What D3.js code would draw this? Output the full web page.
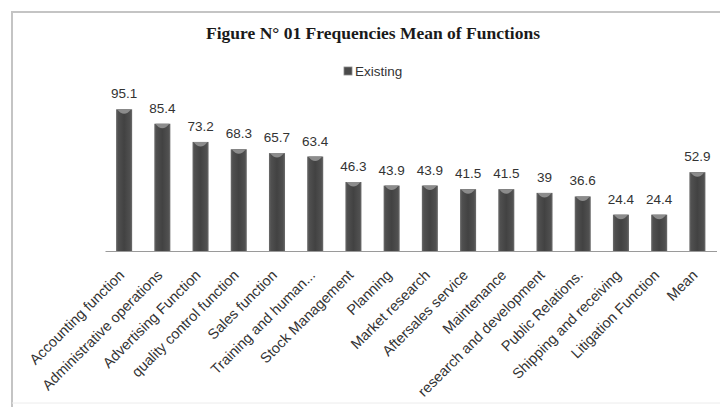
<!DOCTYPE html>
<html><head><meta charset="utf-8">
<script src="https://cdn.jsdelivr.net/npm/d3@7"></script>
<style>body{margin:0;background:#fff}svg{display:block}</style>
</head><body>
<script>
const categories = ["Accounting function","Administrative operations","Advertising Function","quality control function","Sales function","Training and human...","Stock Management","Planning","Market research","Aftersales service","Maintenance","research and development","Public Relations.","Shipping and receiving","Litigation Function","Mean"];
const values = [95.1,85.4,73.2,68.3,65.7,63.4,46.3,43.9,43.9,41.5,41.5,39,36.6,24.4,24.4,52.9];
const valueLabels = ["95.1","85.4","73.2","68.3","65.7","63.4","46.3","43.9","43.9","41.5","41.5","39","36.6","24.4","24.4","52.9"];
const seriesName = "Existing";
const titleText = "Figure N° 01 Frequencies Mean of Functions";

const W = 720, H = 407;
const svg = d3.select("body").append("svg").attr("width", W).attr("height", H);

// chart frame
svg.append("path").attr("d", `M12,${H+2} L12,12 L${W+2},12`).attr("fill","none").attr("stroke","#c4c4c4").attr("stroke-width",2);
svg.append("line").attr("x1",12).attr("x2",W).attr("y1",403).attr("y2",403).attr("stroke","#ececec").attr("stroke-width",1);

const defs = svg.append("defs");
const g = defs.append("linearGradient").attr("id","barGrad").attr("x1","0%").attr("x2","100%").attr("y1","0%").attr("y2","0%");
[["0%","#6e6e6e"],["12%","#505050"],["50%","#424242"],["88%","#505050"],["100%","#6e6e6e"]].forEach(([o,c])=>g.append("stop").attr("offset",o).attr("stop-color",c));

const x = d3.scaleBand().domain(categories).range([105, 716.5]).paddingInner(0.58).paddingOuter(0.29);
const y = d3.scaleLinear().domain([0,100]).range([251,102]);

// title
svg.append("text").attr("x",373).attr("y",39).attr("text-anchor","middle")
  .attr("font-family","'Liberation Serif','Times New Roman',serif").attr("font-weight","bold").attr("font-size",17.5)
  .attr("fill","#1a1a1a").text(titleText);

// legend
svg.append("rect").attr("x",344).attr("y",67).attr("width",8).attr("height",8).attr("fill","#4a4a4a").attr("stroke","#888").attr("stroke-width",0.8);
svg.append("text").attr("x",355).attr("y",76).attr("font-family","'Liberation Sans',Arial,sans-serif").attr("font-size",13.5).attr("fill","#333").text(seriesName);

// bars
const bw = x.bandwidth();
const bars = svg.append("g");
bars.selectAll("rect").data(categories).join("rect")
  .attr("x", d=>x(d)).attr("y", (d,i)=>y(values[i])).attr("width", bw).attr("height",(d,i)=>y(0)-y(values[i]))
  .attr("fill","url(#barGrad)");
bars.selectAll("path.cap").data(categories).join("path").attr("class","cap")
  .attr("d",(d,i)=>{const x0=x(d), t=y(values[i]); return `M${x0+1},${t} L${x0+bw-1},${t} Q${x0+bw/2},${t+9} ${x0+1},${t} Z`;})
  .attr("fill","#8c8c8c");

// baseline axis
const xAxis = d3.axisBottom(x).tickSize(0).tickFormat("");
const ax = svg.append("g").attr("transform",`translate(0,${y(0)})`).call(xAxis);
ax.select(".domain").attr("stroke","#9a9a9a").attr("stroke-width",1.2);

// value labels
svg.append("g").selectAll("text").data(categories).join("text")
  .attr("x", d=>x(d)+bw/2).attr("y",(d,i)=>y(values[i])-11).attr("text-anchor","middle")
  .attr("font-family","'Liberation Sans',Arial,sans-serif").attr("font-size",13.5).attr("fill","#333")
  .text((d,i)=>valueLabels[i]);

// category labels
svg.append("g").selectAll("text").data(categories).join("text")
  .attr("transform", d=>`translate(${x(d)+bw/2+1},${y(0)+25}) rotate(-45)`)
  .attr("text-anchor","end")
  .attr("font-family","'Liberation Sans',Arial,sans-serif").attr("font-size",14.5).attr("fill","#333")
  .text(d=>d);
</script>
</body></html>
